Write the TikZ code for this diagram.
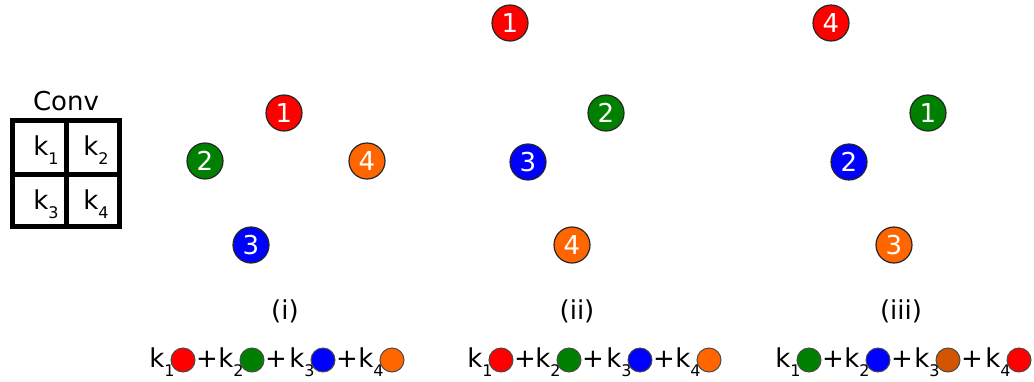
\documentclass[tikz,border=0pt]{standalone}
\usepackage{fontspec}
\setmainfont{DejaVu Sans}
\usetikzlibrary{positioning}
\definecolor{cred}{HTML}{FF0000}
\definecolor{cgreen}{HTML}{008000}
\definecolor{cblue}{HTML}{0000FF}
\definecolor{corange}{HTML}{FF6600}
\definecolor{cbrown}{HTML}{D45500}
\newcommand\mainsize{\fontsize{13}{15}\selectfont}
\newcommand\ksub[1]{k\raisebox{-4.5pt}{\fontsize{8}{9}\selectfont#1}}

\begin{document}
\begin{tikzpicture}[x=0.5pt, y=-0.5pt, every node/.style={font=\mainsize},
    dot/.style={circle, draw=black!85, line width=0.6pt, minimum size=18pt, inner sep=0pt, text=white},
    smalldot/.style={circle, draw=black!70, line width=0.5pt, minimum size=12pt, inner sep=0pt}]
  \useasboundingbox (0,0) rectangle (1034,381);
  % kernel
  \node[anchor=base] (conv) at (66,110) {Conv};
  \draw[line width=2.5pt] (12,120) rectangle (119,226);
  \draw[line width=2.5pt] (66,120) -- (66,226) (12,174) -- (119,174);
  \foreach \x/\y/\n in {33/155/1, 83/155/2, 33/209/3, 83/209/4}{
    \node[anchor=base west, inner sep=0pt] (k\n) at (\x,\y) {\ksub{\n}};
  }
  % three orderings
  \foreach \x/\y/\n/\c [count=\j] in {284/113/1/cred, 205/161/2/cgreen, 251/245/3/cblue, 367/161/4/corange,
      510/23/1/cred, 606/113/2/cgreen, 528/162/3/cblue, 572/245/4/corange,
      831/23/4/cred, 928/113/1/cgreen, 849/162/2/cblue, 894/245/3/corange}{
    \node[dot, fill=\c] (p\j) at (\x,\y) {\n};
  }
  \foreach \x/\l in {285/(i), 577/(ii), 901/(iii)}{
    \node (lab\x) at (\x,311) {\l};
  }
  % sums
  \foreach \x/\n/\c in {183/1/cred, 252/2/cgreen, 323/3/cblue, 392/4/corange,
      501/1/cred, 569/2/cgreen, 640/3/cblue, 709/4/corange,
      809/1/cgreen, 878/2/cblue, 948/3/cbrown, 1019/4/cred}{
    \node[anchor=base east, inner sep=0pt] (k\x) at (\x-8,367) {\ksub{\n}};
    \node[smalldot, fill=\c] (t\x) at (\x,360) {};
  }
  \foreach \x in {207,276,347,525,593,664,833,902,972}{
    \node[anchor=base, inner sep=0pt] (plus\x) at (\x,367) {+};
  }
\end{tikzpicture}
\end{document}
